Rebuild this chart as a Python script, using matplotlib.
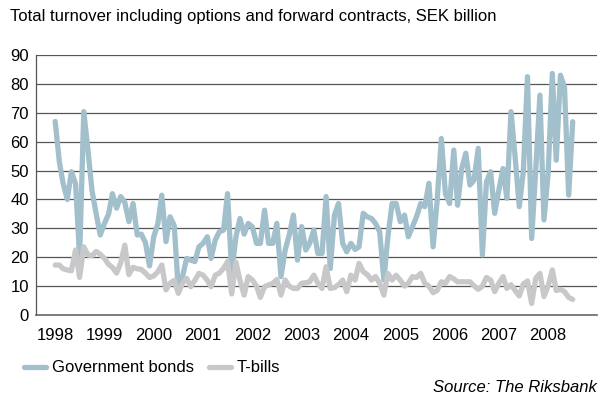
import pandas as pd
import matplotlib
matplotlib.use("Agg")
import matplotlib.pyplot as plt
from matplotlib.lines import Line2D

plt.rcParams['font.family'] = ['Liberation Sans', 'DejaVu Sans']

# Monthly turnover, SEK billion, Jan 1998 - Jul 2008
months = pd.date_range('1998-01-01', periods=127, freq='MS')

gov_bonds = [
    67, 53, 45.5, 40, 49.6, 45.5, 20, 70.4, 57, 43,
    35, 27.7, 31.7, 35, 42, 37, 41, 39, 32.3, 38.6,
    27.7, 28, 25, 17, 27, 31.7, 41.5, 25.4, 34, 31,
    9.2, 13.3, 19.6, 19, 18.5, 23.6, 24.8, 27.1, 19.6, 26,
    28.8, 29.4, 42, 15, 27, 33.4, 28, 31.7, 30.5, 24.8,
    24.8, 36.3, 24.8, 24.8, 31.7, 13.3, 22.5, 27.7, 34.6, 19,
    30.6, 22.5, 24.8, 29.4, 21.3, 21.3, 41, 16.1, 34.6, 38.6,
    24.8, 21.9, 24.8, 22.7, 23.6, 35.2, 34, 33.4, 31.7, 28.8,
    12.1, 27.1, 38.6, 38.6, 32.3, 34.6, 27.1, 30.6, 34, 38.6,
    37.5, 45.6, 23.6, 39.8, 61.1, 42, 38.6, 57.1, 38, 50.7,
    56, 45, 46.7, 57.7, 20.8, 46.1, 49.6, 35.2, 43.3, 50.7,
    40.4, 70.4, 55, 37.5, 49.6, 82.5, 26.5, 50.2, 76.1, 32.9,
    49, 83.6, 53.6, 83, 79, 41.5, 66.9,
]

t_bills = [
    17.3, 17.3, 16, 15.6, 15.3, 22.5, 13, 23.6, 20.8, 20.5,
    22, 21, 19.6, 17.5, 16.5, 14.5, 18, 24.2, 14, 16.5,
    16, 15.8, 14.5, 13, 13.5, 15, 17.3, 8.7, 11, 12,
    7.5, 11, 12.7, 9.8, 12, 14.4, 13.8, 12, 9.8, 13.8,
    14.5, 16.1, 18.5, 7.3, 18.3, 12, 6.9, 13.3, 12.1, 10,
    6.1, 9.8, 10.4, 11, 12.3, 6.9, 12.1, 10, 9.2, 9.2,
    11, 11.2, 11.5, 13.8, 11, 9.2, 16.7, 9.2, 9.5, 10.5,
    12.1, 8.1, 13.8, 12.1, 17.9, 15, 14, 12.1, 13.3, 11,
    6.9, 14.4, 12.1, 13.8, 12, 10, 11, 13.3, 13, 14.4,
    11, 10, 7.7, 8.5, 11.5, 11, 13.3, 12.5, 11.5, 11.5,
    11.5, 11.5, 10.1, 8.9, 10, 13, 12.1, 8.1, 11, 13.3,
    9.2, 10.5, 8.5, 6.6, 10.7, 11.8, 4, 12.7, 14.4, 6.4,
    10, 15.6, 8.5, 8.9, 8.1, 6.1, 5.4,
]

y_ticks = [0, 10, 20, 30, 40, 50, 60, 70, 80, 90]
years = list(range(1998, 2009))

blue = '#a2bfcc'
grey = '#c8c8ca'
fs = 12

fig = plt.figure(figsize=(6, 3.96), dpi=100)
ax = fig.add_axes([0.06, 0.2045, 0.935, 0.6566])

for v in y_ticks[1:]:
    ax.axhline(v, color='#555555', lw=0.9, zorder=1)

ax.plot(months, gov_bonds, color=blue, lw=3.8, solid_joinstyle='round',
        solid_capstyle='round', zorder=3)
ax.plot(months, t_bills, color=grey, lw=3.8, solid_joinstyle='round',
        solid_capstyle='round', zorder=4)

ax.set_ylim(0, 90)
ax.set_yticks(y_ticks)
ax.set_xlim(pd.Timestamp('1997-08-12'), pd.Timestamp('2008-12-28'))
ax.set_xticks([pd.Timestamp(f'{y}-01-01') for y in years])
ax.set_xticklabels([str(y) for y in years])
ax.tick_params(length=0, labelsize=fs, colors='black')
ax.tick_params(axis='y', pad=5)
ax.tick_params(axis='x', pad=9)

for s in ['top', 'right']:
    ax.spines[s].set_visible(False)
ax.spines['left'].set_color('#555555')
ax.spines['left'].set_linewidth(0.9)
ax.spines['bottom'].set_color('#666666')
ax.spines['bottom'].set_linewidth(1.2)

fig.text(10 / 600, 1 - 17 / 396,
         'Total turnover including options and forward contracts, SEK billion',
         fontsize=fs, va='center', ha='left')

handles = [Line2D([], [], color=blue, lw=3.8, solid_capstyle='round'),
           Line2D([], [], color=grey, lw=3.8, solid_capstyle='round')]
fig.legend(handles, ['Government bonds', 'T-bills'], loc='center left',
           bbox_to_anchor=(24 / 600, 1 - 368 / 396), ncol=2, frameon=False,
           fontsize=fs, handlelength=1.3, handletextpad=0.35,
           columnspacing=0.95, borderpad=0, borderaxespad=0)

fig.text(597 / 600, 1 - 387 / 396, 'Source: The Riksbank', fontsize=fs,
         style='italic', ha='right', va='center')

fig.savefig('out.png', dpi=100)
